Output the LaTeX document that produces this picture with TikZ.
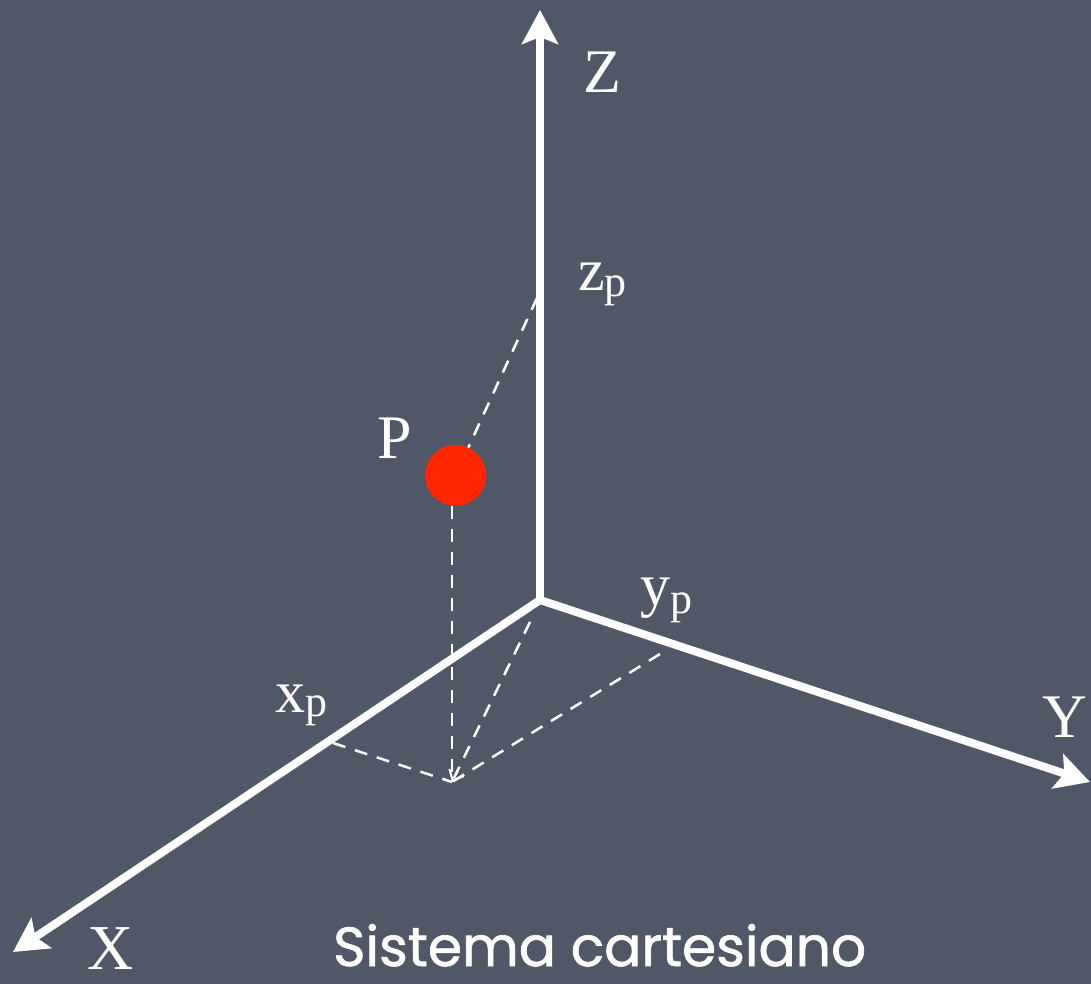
\documentclass[tikz,border=0pt]{standalone}
\usepackage{fontspec}
\setmainfont{Liberation Serif}
\newfontfamily\chalk[FakeBold=1.2]{Poppins}
\usetikzlibrary{arrows.meta}
\definecolor{board}{RGB}{80,87,102}
\definecolor{dotred}{RGB}{255,38,0}
\begin{document}
\begin{tikzpicture}[x=1pt,y=-1pt,
  bigtip/.tip={Stealth[length=34pt,width=36pt,inset=7pt]},
  axis/.style={draw=white,line width=8pt,line join=miter},
  proj/.style={draw=white,line width=2.5pt,dash pattern=on 13pt off 10pt},
  lab/.style={text=white,inner sep=0pt,anchor=base,font=\fontsize{62}{62}\selectfont},
  sublab/.style={text=white,inner sep=0pt,anchor=base west,font=\fontsize{60}{60}\selectfont}]
\useasboundingbox (0,0) rectangle (1091,984);
\fill[board] (0,0) rectangle (1091,984);
% coordinates
\coordinate (O) at (540,600);
\coordinate (Zt) at (540,10);
\coordinate (Yt) at (1090,782);
\coordinate (Xt) at (13,952);
\coordinate (Zp) at (537,298);
\coordinate (Xp) at (333,743);
\coordinate (Yp) at (660,654);
\coordinate (Od) at (530,622);
\coordinate (F) at (452,782);
% point P
\node[circle,fill=dotred,minimum size=61pt,inner sep=0pt] (P) at (455.5,475.5) {};
% projections
\draw[proj] (Zp) -- (P);
\draw[proj] (P.south -| F) -- (F);
\draw[proj] (Xp) -- (F);
\draw[proj] (Yp) -- (F);
\draw[proj,-{Straight Barb[length=9pt,width=16pt,line width=2pt]}] (Od) -- (F);
% axes
\draw[axis,-bigtip] (O) -- (Zt);
\draw[axis,bigtip-bigtip] (Xt) -- (O) -- (Yt);
% labels
\node[lab] (Zl) at (602,93) {Z};
\node[lab] (Yl) at (1065,737) {Y};
\node[lab,font=\fontsize{64}{64}\selectfont] (Xl) at (111,969) {X};
\node[lab] (Pl) at (395,458) {P};
\node[sublab] (zpl) at (578,290) {z\raisebox{-6pt}{\fontsize{44}{44}\selectfont p}};
\node[sublab] (xpl) at (275,712) {x\raisebox{-4pt}{\fontsize{44}{44}\selectfont p}};
\node[sublab] (ypl) at (640,605) {y\raisebox{-8pt}{\fontsize{44}{44}\selectfont p}};
\node[text=white,inner sep=0pt,anchor=base west] (title) at (333,966)
  {\resizebox{533pt}{42pt}{\chalk Sistema cartesiano}};
\end{tikzpicture}
\end{document}
